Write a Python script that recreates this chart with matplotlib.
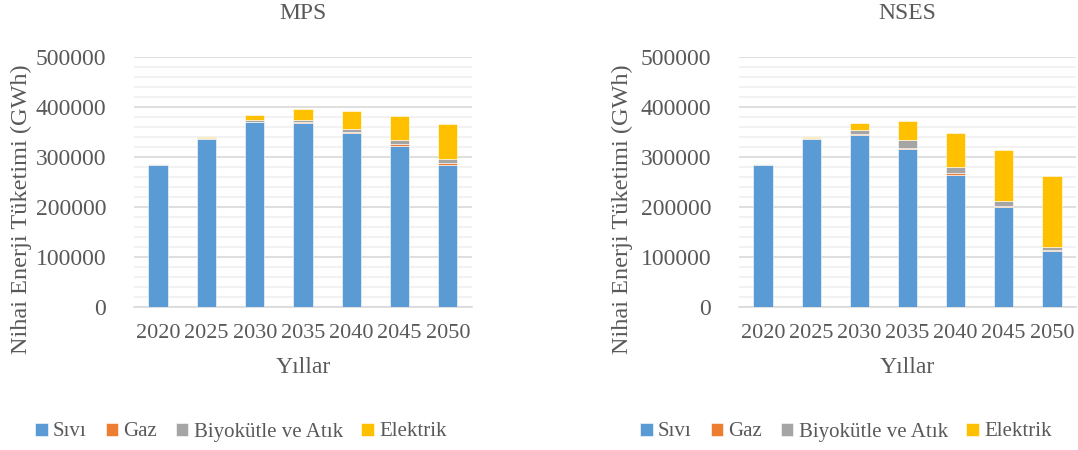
import matplotlib
matplotlib.use('Agg')
import matplotlib.pyplot as plt
import numpy as np
from matplotlib.ticker import MultipleLocator

plt.rcParams['font.family'] = ['Liberation Serif', 'DejaVu Serif']

years = ['2020', '2025', '2030', '2035', '2040', '2045', '2050']
series = ['Sıvı', 'Gaz', 'Biyokütle ve Atık', 'Elektrik']
colors = ['#5B9BD5', '#ED7D31', '#A5A5A5', '#FFC000']

# MPS scenario (GWh)
mps_sivi = [283000, 335000, 369000, 368000, 347000, 321000, 283000]
mps_gaz = [500, 500, 1000, 2500, 3500, 4500, 4000]
mps_bio = [2000, 2500, 3500, 4000, 5000, 7500, 9500]
mps_elek = [1000, 1500, 10000, 21000, 36000, 49000, 68500]

# NSES scenario (GWh)
nses_sivi = [283000, 335000, 343000, 315000, 264000, 199000, 112000]
nses_gaz = [500, 500, 2500, 3000, 3500, 3500, 2500]
nses_bio = [2000, 3000, 8000, 15500, 13000, 9500, 6000]
nses_elek = [1000, 2000, 14000, 37500, 68000, 102000, 141500]

TXT = '#595959'
FS = 17

fig = plt.figure(figsize=(10.78, 4.5), dpi=100)
ax1 = fig.add_axes([0.1243, 0.3178, 0.3135, 0.5556])
ax2 = fig.add_axes([0.6855, 0.3178, 0.3126, 0.5556])

def draw(ax, title, data, ylab_x):
    x = np.arange(len(years))
    bottom = np.zeros(len(years))
    handles = []
    for vals, name, c in zip(data, series, colors):
        h = ax.bar(x, vals, 0.4, bottom=bottom, color=c, label=name,
                   edgecolor='white', linewidth=0.4, zorder=3)
        bottom += np.array(vals)
        handles.append(h)
    ax.set_xlim(-0.5, len(years) - 0.5)
    ax.set_ylim(0, 500000)
    ax.yaxis.set_major_locator(MultipleLocator(100000))
    ax.yaxis.set_minor_locator(MultipleLocator(20000))
    ax.grid(axis='y', which='major', color='#d9d9d9', linewidth=1.2, zorder=0)
    ax.grid(axis='y', which='minor', color='#f0f0f0', linewidth=1.2, zorder=0)
    ax.set_xticks(x)
    ax.set_xticklabels(years)
    ax.tick_params(axis='both', which='both', length=0, colors=TXT)
    ax.tick_params(axis='y', pad=20, labelsize=FS)
    ax.tick_params(axis='x', pad=12, labelsize=16)
    for s in ['top', 'right', 'left']:
        ax.spines[s].set_visible(False)
    ax.spines['bottom'].set_color('#d9d9d9')
    ax.spines['bottom'].set_linewidth(1.2)
    ax.set_title(title, color=TXT, fontsize=FS, pad=27)
    ax.set_xlabel('Yıllar', color=TXT, fontsize=FS, labelpad=10)
    ax.set_ylabel('Nihai Enerji Tüketimi (GWh)', color=TXT, fontsize=17.5)
    ax.yaxis.set_label_coords(ylab_x, 0.392)
    return handles

h1 = draw(ax1, 'MPS', [mps_sivi, mps_gaz, mps_bio, mps_elek], -0.302)
h2 = draw(ax2, 'NSES', [nses_sivi, nses_gaz, nses_bio, nses_elek], -0.315)

for h, cx in [(h1, 241 / 1078), (h2, 846 / 1078)]:
    leg = fig.legend(h, series, loc='center', bbox_to_anchor=(cx, 1 - 432 / 450),
                     ncol=4, frameon=False, fontsize=15, handlelength=0.6,
                     handleheight=0.6, handletextpad=0.25, columnspacing=0.9)
    for t in leg.get_texts():
        t.set_color(TXT)

fig.savefig('out.png', dpi=100)
